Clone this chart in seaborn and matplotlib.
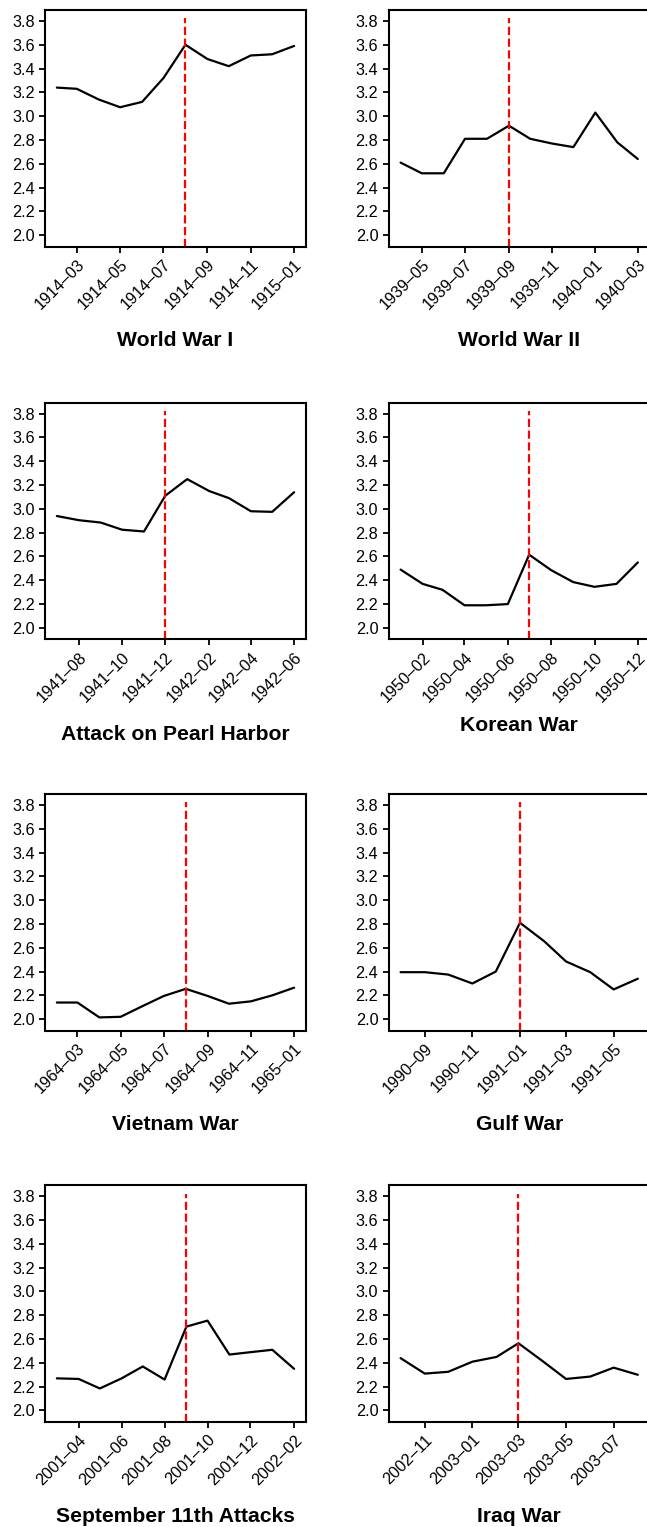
import matplotlib
matplotlib.use("Agg")
import matplotlib.pyplot as plt
import matplotlib.dates as mdates
from matplotlib.ticker import FormatStrFormatter
import numpy as np
import pandas as pd
import seaborn as sns

# Monthly index values around eight conflicts
titles = [
    "World War I", "World War II",
    "Attack on Pearl Harbor", "Korean War",
    "Vietnam War", "Gulf War",
    "September 11th Attacks", "Iraq War",
]
start_months = ["1914-02", "1939-04", "1941-07", "1950-01",
                "1964-02", "1990-08", "2001-03", "2002-10"]
event_months = ["1914-08", "1939-09", "1941-12", "1950-07",
                "1964-08", "1991-01", "2001-09", "2003-03"]

wwi = [3.24, 3.23, 3.14, 3.075, 3.12, 3.32, 3.60, 3.48, 3.42, 3.51, 3.52, 3.59]
wwii = [2.61, 2.52, 2.52, 2.81, 2.81, 2.92, 2.81, 2.77, 2.74, 3.03, 2.78, 2.64]
pearl = [2.94, 2.905, 2.885, 2.825, 2.81, 3.11, 3.25, 3.15, 3.09, 2.98, 2.975, 3.14]
korea = [2.49, 2.37, 2.32, 2.19, 2.19, 2.20, 2.615, 2.485, 2.385, 2.345, 2.37, 2.55]
vietnam = [2.14, 2.14, 2.015, 2.02, 2.11, 2.195, 2.255, 2.195, 2.13, 2.15, 2.20, 2.265]
gulf = [2.395, 2.395, 2.375, 2.30, 2.40, 2.81, 2.655, 2.485, 2.395, 2.25, 2.34]
sept11 = [2.27, 2.265, 2.185, 2.27, 2.37, 2.26, 2.705, 2.755, 2.47, 2.49, 2.51, 2.35]
iraq = [2.44, 2.31, 2.325, 2.41, 2.45, 2.565, 2.415, 2.265, 2.285, 2.36, 2.30]
series = [wwi, wwii, pearl, korea, vietnam, gulf, sept11, iraq]

tick_labels = [
    ["1914-03", "1914-05", "1914-07", "1914-09", "1914-11", "1915-01"],
    ["1939-05", "1939-07", "1939-09", "1939-11", "1940-01", "1940-03"],
    ["1941-08", "1941-10", "1941-12", "1942-02", "1942-04", "1942-06"],
    ["1950-02", "1950-04", "1950-06", "1950-08", "1950-10", "1950-12"],
    ["1964-03", "1964-05", "1964-07", "1964-09", "1964-11", "1965-01"],
    ["1990-09", "1990-11", "1991-01", "1991-03", "1991-05"],
    ["2001-04", "2001-06", "2001-08", "2001-10", "2001-12", "2002-02"],
    ["2002-11", "2003-01", "2003-03", "2003-05", "2003-07"],
]
y_ticks = [2.0, 2.2, 2.4, 2.6, 2.8, 3.0, 3.2, 3.4, 3.6, 3.8]

sns.set_style("ticks")
plt.rcParams["font.family"] = ["Liberation Sans", "DejaVu Sans"]
plt.rcParams["text.color"] = "black"
plt.rcParams["axes.labelcolor"] = "black"
plt.rcParams["axes.edgecolor"] = "black"
plt.rcParams["axes.linewidth"] = 1.5
plt.rcParams["xtick.color"] = "black"
plt.rcParams["ytick.color"] = "black"

W, H = 647, 1527
fig = plt.figure(figsize=(W / 100, H / 100), dpi=100)

col_left = [45, 388.7]
row_top = [10, 402.7, 794, 1185.3]
ax_w, ax_h = 261, 236.5
label_drop = [100, 100, 100.5, 92, 100, 100, 100, 100]

for i, (title, start, event, vals, ticks) in enumerate(
        zip(titles, start_months, event_months, series, tick_labels)):
    r, c = divmod(i, 2)
    left = col_left[c] / W
    bottom = 1 - (row_top[r] + ax_h) / H
    ax = fig.add_axes([left, bottom, ax_w / W, ax_h / H])

    df = pd.DataFrame({
        "month": pd.date_range(start, periods=len(vals), freq="MS"),
        "value": vals,
    })
    sns.lineplot(data=df, x="month", y="value", ax=ax,
                 color="black", linewidth=1.6)
    ax.axvline(pd.Timestamp(event), ymin=0, ymax=0.965,
               color="#ff0000", linestyle="--", linewidth=1.6)

    ax.set_ylim(1.905, 3.892)
    ax.set_yticks(y_ticks)
    ax.yaxis.set_major_formatter(FormatStrFormatter("%.1f"))
    ax.set_xticks(pd.to_datetime(ticks))
    ax.xaxis.set_major_formatter(mdates.DateFormatter("%Y\u2013%m"))
    ax.tick_params(axis="both", labelsize=11.7, length=4, width=1.3,
                   colors="black", labelcolor="black")
    for lab in ax.get_xticklabels():
        lab.set_rotation(45)
        lab.set_ha("right")
        lab.set_rotation_mode("anchor")
    ax.set_ylabel("")
    ax.set_xlabel(title, fontsize=15.2, fontweight="bold", color="black")
    ax.xaxis.set_label_coords(0.5, -label_drop[i] / ax_h)
    ax.xaxis.label.set_verticalalignment("baseline")
    for sp in ax.spines.values():
        sp.set_visible(True)
        sp.set_color("black")
        sp.set_linewidth(1.5)

fig.savefig("out.png", dpi=100)
